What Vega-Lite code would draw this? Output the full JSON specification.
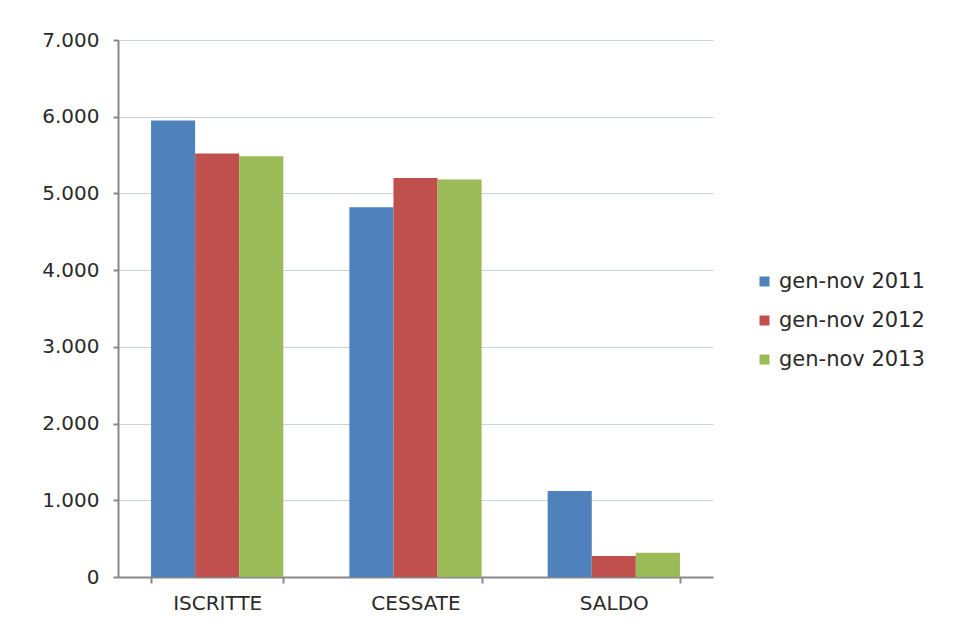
{
  "$schema": "https://vega.github.io/schema/vega-lite/v6.json",
  "autosize": {"type": "none"},
  "width": 595,
  "height": 537,
  "padding": {"left": 118, "top": 40, "right": 246, "bottom": 49},
  "background": "white",
  "data": {
    "values": [
      {"categoria": "ISCRITTE", "periodo": "gen-nov 2011", "valore": 5950},
      {"categoria": "ISCRITTE", "periodo": "gen-nov 2012", "valore": 5520},
      {"categoria": "ISCRITTE", "periodo": "gen-nov 2013", "valore": 5485},
      {"categoria": "CESSATE", "periodo": "gen-nov 2011", "valore": 4820},
      {"categoria": "CESSATE", "periodo": "gen-nov 2012", "valore": 5200},
      {"categoria": "CESSATE", "periodo": "gen-nov 2013", "valore": 5180},
      {"categoria": "SALDO", "periodo": "gen-nov 2011", "valore": 1120},
      {"categoria": "SALDO", "periodo": "gen-nov 2012", "valore": 275},
      {"categoria": "SALDO", "periodo": "gen-nov 2013", "valore": 315}
    ]
  },
  "mark": {"type": "bar"},
  "encoding": {
    "x": {
      "field": "categoria",
      "type": "nominal",
      "sort": ["ISCRITTE", "CESSATE", "SALDO"],
      "scale": {"paddingInner": 0.333, "paddingOuter": 0.1667},
      "axis": {
        "title": null,
        "labelAngle": 0,
        "labelFont": "DejaVu Sans",
        "labelFontSize": 20,
        "labelColor": "#2a2a2a",
        "labelPadding": 10,
        "tickBand": "extent",
        "tickSize": 6,
        "tickColor": "#888",
        "tickWidth": 2,
        "domainColor": "#888",
        "domainWidth": 2
      }
    },
    "xOffset": {
      "field": "periodo",
      "type": "nominal",
      "scale": {"paddingInner": 0, "paddingOuter": 0}
    },
    "y": {
      "field": "valore",
      "type": "quantitative",
      "scale": {"domain": [0, 7000], "nice": false},
      "axis": {
        "title": null,
        "values": [0, 1000, 2000, 3000, 4000, 5000, 6000, 7000],
        "labelExpr": "replace(format(datum.value, ','), ',', '.')",
        "labelFont": "DejaVu Sans",
        "labelFontSize": 20,
        "labelColor": "#2a2a2a",
        "labelPadding": 14,
        "tickSize": 5,
        "tickColor": "#888",
        "tickWidth": 2,
        "domainColor": "#888",
        "domainWidth": 2,
        "gridColor": "#c9d2df",
        "gridWidth": 1
      }
    },
    "color": {
      "field": "periodo",
      "type": "nominal",
      "scale": {
        "domain": ["gen-nov 2011", "gen-nov 2012", "gen-nov 2013"],
        "range": ["#4F81BD", "#C0504D", "#9BBB59"]
      },
      "legend": {
        "title": null,
        "orient": "none",
        "legendX": 636,
        "legendY": 231,
        "symbolType": "square",
        "symbolSize": 100,
        "symbolStrokeWidth": 0,
        "labelFont": "DejaVu Sans",
        "labelFontSize": 21,
        "labelColor": "#2a2a2a",
        "labelOffset": 4,
        "rowPadding": 17
      }
    }
  },
  "config": {
    "view": {"stroke": null}
  }
}
